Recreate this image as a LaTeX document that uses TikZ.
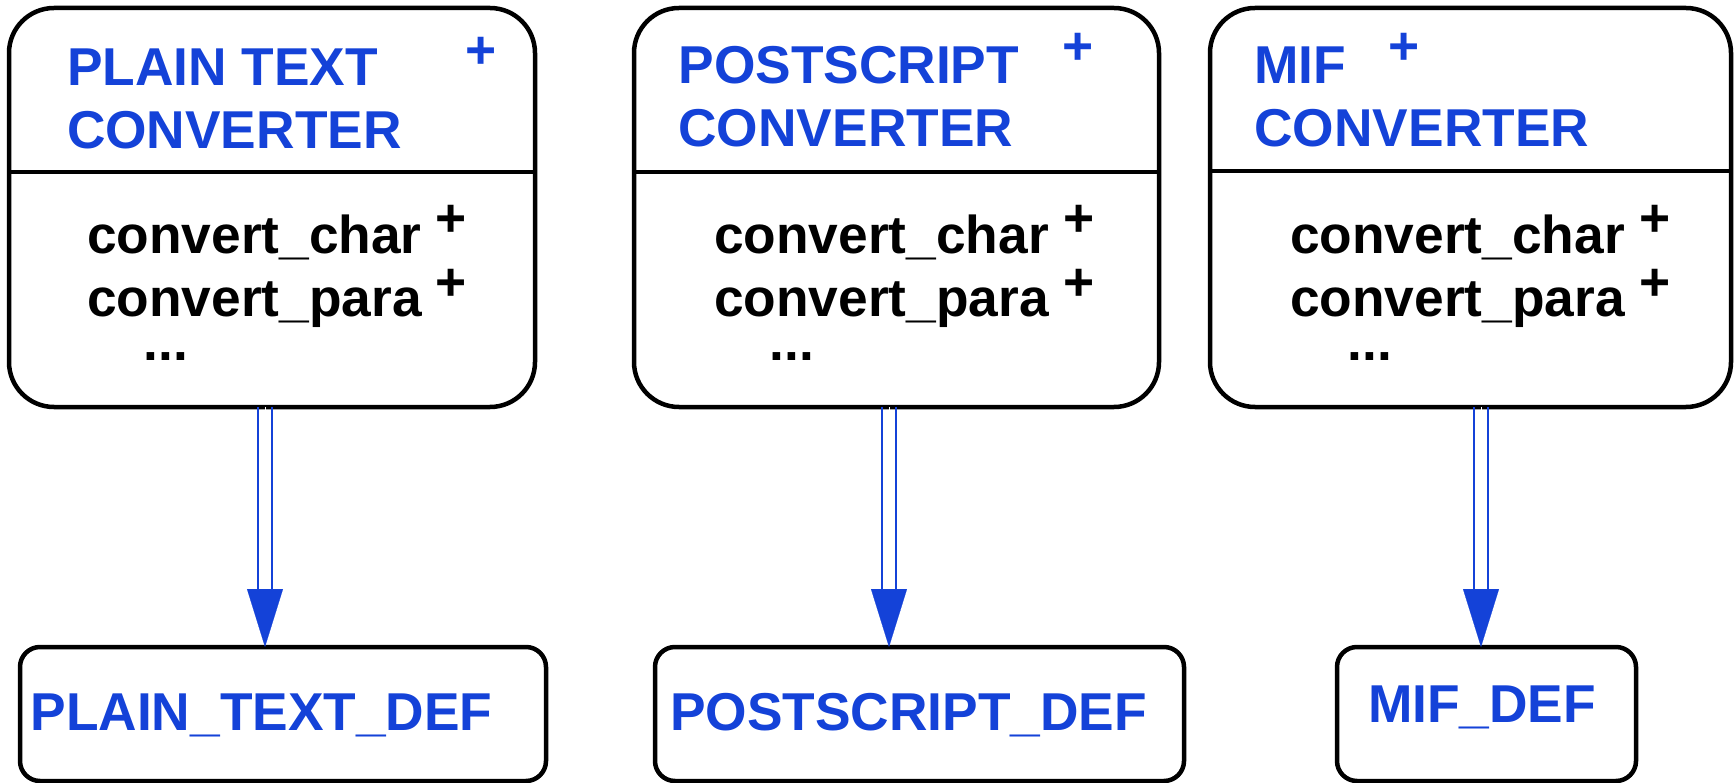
\documentclass[tikz,border=0pt]{standalone}
\usepackage{fontspec}
\setmainfont{Liberation Sans}
\usetikzlibrary{arrows.meta}
\definecolor{tblue}{RGB}{20,66,216}
\begin{document}
\begin{tikzpicture}[x=1pt,y=-1pt,
  every node/.style={inner sep=0pt, outer sep=0pt},
  clsbox/.style={draw=black, line width=4.5pt, rounded corners=45pt, anchor=north west, minimum height=399pt},
  defbox/.style={draw=black, line width=4.5pt, rounded corners=20pt, anchor=north west, minimum height=134pt},
  divline/.style={draw=black, line width=4pt},
  ttl/.style={anchor=base west, text=tblue, font=\fontsize{53.3}{62}\selectfont\bfseries},
  mth/.style={anchor=base west, text=black, font=\fontsize{53.3}{62}\selectfont\bfseries},
  tpls/.style={anchor=base, text=tblue, font=\fontsize{53.3}{62}\selectfont\bfseries},
  mpls/.style={anchor=base, text=black, font=\fontsize{53.3}{62}\selectfont\bfseries},
  shaft/.style={draw=tblue, line width=2pt},
  tiphead/.style={draw=white, line width=0.2pt, -{Triangle[length=58pt,width=36pt,color=tblue,fill=tblue]}},
]
\useasboundingbox (0,0) rectangle (1734,783);

% converter boxes
\node[clsbox, minimum width=526pt] (c1) at (9,8) {};
\node[clsbox, minimum width=525pt] (c2) at (634,8) {};
\node[clsbox, minimum width=521pt] (c3) at (1210,8) {};

% dividers
\draw[divline] ([yshift=-164.5pt]c1.north west) -- ([yshift=-164.5pt]c1.north east);
\draw[divline] ([yshift=-164.5pt]c2.north west) -- ([yshift=-164.5pt]c2.north east);
\draw[divline] ([yshift=-163.5pt]c3.north west) -- ([yshift=-163.5pt]c3.north east);

% definition boxes
\node[defbox, minimum width=526pt] (d1) at (20,647) {};
\node[defbox, minimum width=529pt] (d2) at (655,647) {};
\node[defbox, minimum width=299pt] (d3) at (1337,647) {};

% titles
\node[ttl] (t1a) at (67,86) {PLAIN TEXT};
\node[ttl] (t1b) at (67,149) {CONVERTER};
\node[tpls] (t1p) at (481,69) {+};
\node[ttl] (t2a) at (678.5,84) {POSTSCRIPT};
\node[ttl] (t2b) at (678.5,147) {CONVERTER};
\node[tpls] (t2p) at (1078,65) {+};
\node[ttl] (t3a) at (1254.5,84) {MIF};
\node[ttl] (t3b) at (1254.5,147) {CONVERTER};
\node[tpls] (t3p) at (1404.5,65) {+};

% methods
\node[mth] (m1a) at (87,254) {convert\_char};
\node[mpls] (m1ap) at (451,237) {+};
\node[mth] (m1b) at (87,317) {convert\_para};
\node[mpls] (m1bp) at (451,301) {+};
\node[mth] (m1c) at (143.5,360) {...};

\node[mth] (m2a) at (714,254) {convert\_char};
\node[mpls] (m2ap) at (1079,237) {+};
\node[mth] (m2b) at (714,317) {convert\_para};
\node[mpls] (m2bp) at (1079,301) {+};
\node[mth] (m2c) at (769.5,360) {...};

\node[mth] (m3a) at (1290,254) {convert\_char};
\node[mpls] (m3ap) at (1655,237) {+};
\node[mth] (m3b) at (1290,317) {convert\_para};
\node[mpls] (m3bp) at (1655,301) {+};
\node[mth] (m3c) at (1347.5,360) {...};

% definition labels
\node[ttl] (l1) at (30.5,730) {PLAIN\_TEXT\_DEF};
\node[ttl] (l2) at (670,730) {POSTSCRIPT\_DEF};
\node[ttl] (l3) at (1368,722) {MIF\_DEF};

% connectors (double shaft with filled head)
\coordinate (a1) at (265,0);
\coordinate (a2) at (889,0);
\coordinate (a3) at (1481,0);
\foreach \a/\c/\d in {a1/c1/d1, a2/c2/d2, a3/c3/d3}{
  \draw[tiphead] (\a |- \c.south) -- (\a |- \d.north);
  \draw[shaft] ([xshift=-7pt]\a |- \c.south) -- ([xshift=-7pt,yshift=58pt]\a |- \d.north);
  \draw[shaft] ([xshift=7pt]\a |- \c.south) -- ([xshift=7pt,yshift=58pt]\a |- \d.north);
}
\end{tikzpicture}
\end{document}
